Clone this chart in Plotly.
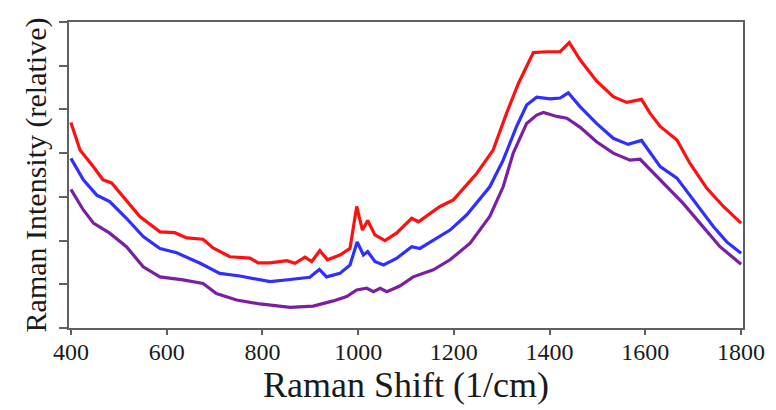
import plotly.graph_objects as go

# Raman shift (1/cm) sample positions and relative intensities
red_x = [400, 419, 447, 467, 485, 516, 544, 586, 617, 642, 676, 697, 732, 774, 791, 816, 851, 868, 889, 903,
         920, 936, 962, 983, 997, 1009, 1020, 1035, 1056, 1080, 1112, 1126, 1171, 1199, 1248, 1282, 1310, 1335,
         1366, 1394, 1422, 1441, 1464, 1498, 1533, 1561, 1592, 1610, 1631, 1666, 1693, 1728, 1763, 1800]
red_y = [4.70, 4.07, 3.69, 3.39, 3.32, 2.93, 2.55, 2.20, 2.18, 2.06, 2.03, 1.83, 1.63, 1.60, 1.49, 1.49, 1.54,
         1.48, 1.62, 1.52, 1.77, 1.56, 1.67, 1.82, 2.78, 2.24, 2.46, 2.13, 2.00, 2.17, 2.51, 2.43, 2.78, 2.93,
         3.54, 4.07, 4.91, 5.60, 6.30, 6.32, 6.32, 6.53, 6.13, 5.65, 5.29, 5.16, 5.23, 4.91, 4.61, 4.30, 3.77,
         3.20, 2.78, 2.40]

blue_x = [400, 426, 454, 481, 516, 551, 586, 621, 670, 711, 753, 791, 816, 858, 899, 919, 934, 962, 983, 998,
          1011, 1020, 1035, 1053, 1080, 1112, 1129, 1192, 1227, 1275, 1303, 1331, 1352, 1373, 1401, 1422, 1439,
          1464, 1498, 1533, 1564, 1592, 1610, 1631, 1666, 1700, 1742, 1770, 1800]
blue_y = [3.88, 3.39, 3.04, 2.89, 2.51, 2.09, 1.82, 1.72, 1.48, 1.25, 1.19, 1.12, 1.06, 1.11, 1.16, 1.34, 1.17,
          1.25, 1.44, 1.97, 1.67, 1.75, 1.52, 1.44, 1.59, 1.86, 1.82, 2.24, 2.59, 3.23, 3.84, 4.61, 5.10, 5.28,
          5.24, 5.26, 5.38, 5.06, 4.68, 4.34, 4.20, 4.29, 4.00, 3.69, 3.43, 2.93, 2.32, 1.97, 1.71]

purple_x = [400, 426, 447, 481, 516, 551, 586, 634, 676, 704, 746, 795, 858, 906, 948, 976, 997, 1018, 1032,
            1046, 1060, 1087, 1115, 1157, 1192, 1234, 1275, 1303, 1324, 1352, 1373, 1387, 1415, 1436, 1464, 1498,
            1533, 1568, 1589, 1610, 1645, 1679, 1714, 1756, 1800]
purple_y = [3.17, 2.70, 2.40, 2.17, 1.86, 1.40, 1.17, 1.10, 1.02, 0.79, 0.64, 0.55, 0.47, 0.50, 0.62, 0.72,
            0.87, 0.91, 0.83, 0.91, 0.83, 0.96, 1.17, 1.33, 1.56, 1.94, 2.55, 3.23, 4.00, 4.68, 4.87, 4.93, 4.84,
            4.80, 4.59, 4.26, 4.00, 3.84, 3.86, 3.62, 3.23, 2.85, 2.40, 1.86, 1.46]

x_ticks = [400, 600, 800, 1000, 1200, 1400, 1600, 1800]
y_ticks = [0, 1, 2, 3, 4, 5, 6, 7]

FONT = "Liberation Serif"
AXIS_COLOR = "#606060"
TEXT_COLOR = "#1a1a1a"

fig = go.Figure()
for xs, ys, col, name in [(purple_x, purple_y, "#7b1fa2", "purple"),
                          (blue_x, blue_y, "#2f2fff", "blue"),
                          (red_x, red_y, "#ff1010", "red")]:
    fig.add_trace(go.Scatter(x=xs, y=ys, mode="lines", name=name,
                             line=dict(color=col, width=3.2), showlegend=False))

# the page body adds an 8px margin, so the figure is sized/margined to compensate
fig.update_layout(
    width=768, height=402,
    margin=dict(l=61, r=33, t=14, b=82, autoexpand=False),
    paper_bgcolor="white", plot_bgcolor="white",
    font=dict(family=FONT, color=TEXT_COLOR),
)
fig.update_xaxes(
    range=[396, 1804], tickvals=x_ticks, ticktext=[str(v) for v in x_ticks],
    showgrid=False, zeroline=False, automargin=False,
    showline=True, mirror=True, linecolor=AXIS_COLOR, linewidth=2,
    ticks="outside", ticklen=5, tickwidth=1.5, tickcolor=AXIS_COLOR,
    ticklabelstandoff=-4,
    tickfont=dict(family=FONT, size=24, color=TEXT_COLOR),
    title=dict(text="Raman Shift (1/cm)", font=dict(family=FONT, size=36, color=TEXT_COLOR), standoff=2),
)
fig.update_yaxes(
    range=[0, 7], tickvals=y_ticks, showticklabels=False,
    showgrid=False, zeroline=False, automargin=False,
    showline=True, mirror=True, linecolor=AXIS_COLOR, linewidth=2,
    ticks="outside", ticklen=8, tickwidth=2, tickcolor=AXIS_COLOR,
    title=dict(text="Raman Intensity (relative)", font=dict(family=FONT, size=30, color=TEXT_COLOR), standoff=4),
)

fig.write_html("out.html")
